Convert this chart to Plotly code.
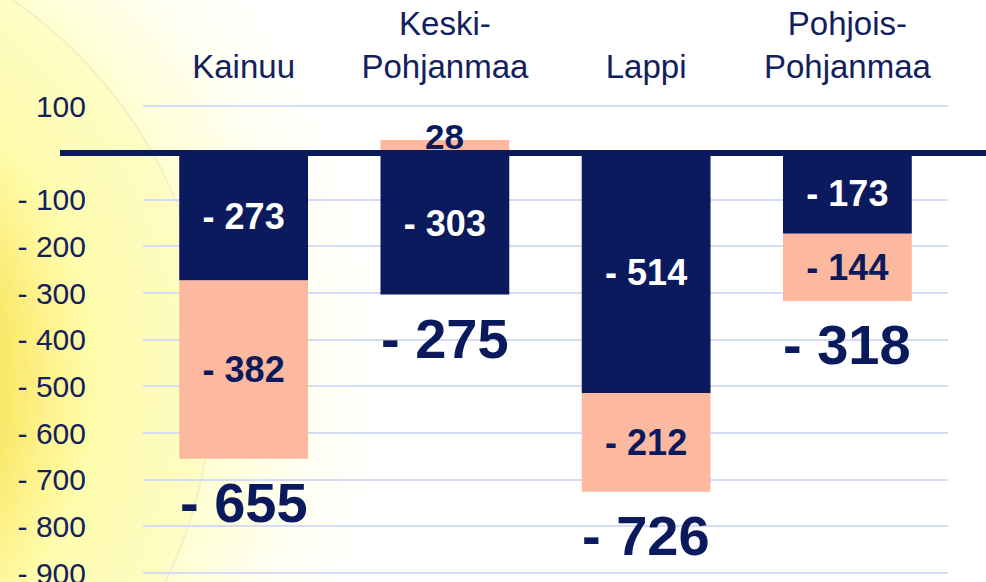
import plotly.graph_objects as go

# ---- data ----
categories = ["Kainuu", "Keski-<br>Pohjanmaa", "Lappi", "Pohjois-<br>Pohjanmaa"]
navy_values = [-273, -303, -514, -173]
salmon_values = [-382, 28, -212, -144]
totals = [-655, -275, -726, -318]
y_tickvals = [100, -100, -200, -300, -400, -500, -600, -700, -800, -900]
y_ticktext = ["100", "- 100", "- 200", "- 300", "- 400", "- 500", "- 600", "- 700", "- 800", "- 900"]

NAVY = "#0b1a5c"
SALMON = "#fcb9a0"
TXT = "#13205e"
FONT = "Arial, Liberation Sans, sans-serif"

W, H = 986, 582
ML, MR, MT, MB = 143, 38, 83, 1
PW, PH = W - ML - MR, H - MT - MB


def fmt(v):
    return f"- {abs(v)}" if v < 0 else f"{v}"


x_idx = list(range(len(categories)))

fig = go.Figure()
fig.add_trace(go.Bar(
    x=x_idx, y=navy_values, marker=dict(color=NAVY, line=dict(width=0)),
    width=0.64, text=[fmt(v) for v in navy_values], textposition="inside",
    insidetextanchor="middle", textangle=0, constraintext="none",
    textfont=dict(family=FONT, size=36, color="white", weight="bold"),
    hoverinfo="skip", showlegend=False,
))
fig.add_trace(go.Bar(
    x=x_idx, y=salmon_values, marker=dict(color=SALMON, line=dict(width=0)),
    width=0.64, text=[fmt(v) if v < 0 else "" for v in salmon_values],
    textposition="inside", insidetextanchor="middle", textangle=0,
    constraintext="none",
    textfont=dict(family=FONT, size=36, color=NAVY, weight="bold"),
    hoverinfo="skip", showlegend=False,
))

annotations = []
for i, v in enumerate(salmon_values):
    if v > 0:
        annotations.append(dict(x=i, y=v, xref="x", yref="y", text=f"<b>{fmt(v)}</b>",
                                showarrow=False, yanchor="middle", yshift=3,
                                font=dict(family=FONT, size=35, color=NAVY)))
for i, t in enumerate(totals):
    bottom = min(0, navy_values[i]) + min(0, salmon_values[i])
    annotations.append(dict(x=i, y=bottom, xref="x", yref="y", text=f"<b>{fmt(t)}</b>",
                            showarrow=False, yanchor="middle", yshift=-44,
                            font=dict(family=FONT, size=56, color=NAVY)))

shapes = []


def px_to_paper_x(px):
    return (px - ML) / PW


def px_to_paper_y(py):
    return (H - MB - py) / PH


# background glow (style only)
cx, cy = -250, 380
profile = [(640, 0.0), (560, 0.03), (480, 0.17), (464, 0.21), (460, 0.29),
           (350, 0.36), (300, 0.58), (250, 0.86), (0, 0.92)]


def target(r):
    for (r1, a1), (r2, a2) in zip(profile[:-1], profile[1:]):
        if r2 <= r <= r1:
            return a2 + (a1 - a2) * (r - r2) / (r1 - r2)
    return 0.0


radii = list(range(636, 463, -6)) + [461] + list(range(455, 235, -5))
prev = 0.0
for r in radii:
    A = target(r)
    a = 1 - (1 - A) / (1 - prev)
    prev = A
    if a <= 0:
        continue
    shapes.append(dict(type="circle", xref="paper", yref="paper", layer="below",
                       x0=px_to_paper_x(cx - r), x1=px_to_paper_x(cx + r),
                       y0=px_to_paper_y(cy + r), y1=px_to_paper_y(cy - r),
                       fillcolor=f"rgba(248,230,85,{a:.4f})", line=dict(width=0)))
r = 462
shapes.append(dict(type="circle", xref="paper", yref="paper", layer="below",
                   x0=px_to_paper_x(cx - r), x1=px_to_paper_x(cx + r),
                   y0=px_to_paper_y(cy + r), y1=px_to_paper_y(cy - r),
                   fillcolor="rgba(0,0,0,0)", line=dict(width=2, color="rgba(190,180,120,0.18)")))

# zero line
shapes.append(dict(type="line", xref="paper", yref="y", layer="above",
                   x0=px_to_paper_x(60), x1=px_to_paper_x(986), y0=0, y1=0,
                   line=dict(color=NAVY, width=6)))

fig.update_layout(
    width=W, height=H, barmode="relative",
    margin=dict(l=ML, r=MR, t=MT, b=MB, autoexpand=False),
    paper_bgcolor="white", plot_bgcolor="rgba(0,0,0,0)",
    shapes=shapes, annotations=annotations,
    font=dict(family=FONT, color=TXT),
)
fig.update_xaxes(
    tickvals=x_idx, ticktext=categories, side="top", range=[-0.5, 3.5],
    showgrid=False, zeroline=False, showline=False, ticks="", automargin=False,
    tickfont=dict(family=FONT, size=33, color=TXT), ticklabelstandoff=-3,
)
fig.update_yaxes(
    range=[-917, 150], tickvals=y_tickvals, ticktext=y_ticktext,
    showgrid=True, gridcolor="#d3dcf4", gridwidth=2, zeroline=False,
    showline=False, ticks="", ticklabelstandoff=56, ticklabeloverflow="allow",
    automargin=False, tickfont=dict(family=FONT, size=30, color=TXT),
)

fig.write_html("out.html", config={"displayModeBar": False},
               post_script="document.body.style.margin='0';document.body.style.overflow='hidden';")
